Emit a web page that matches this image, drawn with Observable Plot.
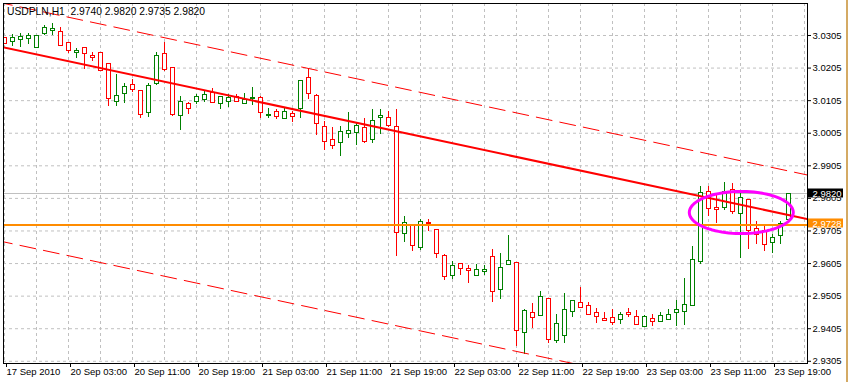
<!DOCTYPE html>
<html><head><meta charset="utf-8">
<script src="https://cdn.jsdelivr.net/npm/d3@7"></script>
<script src="https://cdn.jsdelivr.net/npm/@observablehq/plot@0.6"></script>
<style>
html,body{margin:0;padding:0;background:#fff;}
#wrap{position:relative;width:848px;height:382px;overflow:hidden;}
#edge{position:absolute;left:846px;top:0;width:2px;height:382px;background:#d4aa64;z-index:2;}
svg{display:block;}
</style></head><body><div id="wrap"><div id="edge"></div></div>
<script>
// ---- data (USDPLN, H1) ----
const symbolTitle = "USDPLN,H1\u00a0\u00a02.9740 2.9820 2.9735 2.9820";
const opens = [3.0296,3.0284,3.0290,3.0293,3.0266,3.0309,3.0318,3.0315,3.0281,3.0250,
3.0266,3.0243,3.0250,3.0217,3.0102,3.0125,3.0152,3.0135,3.0066,3.0155,
3.0247,3.0204,3.0057,3.0096,3.0101,3.0107,3.0130,3.0094,3.0100,3.0117,
3.0094,3.0112,3.0112,3.0060,3.0069,3.0050,3.0064,3.0080,3.0174,3.0119,
3.0025,2.9985,2.9974,3.0002,3.0005,3.0020,2.9984,3.0053,3.0051,3.0023,
2.9695,2.9721,2.9652,2.9729,2.9708,2.9629,2.9568,2.9603,2.9589,2.9568,
2.9579,2.9625,2.9524,2.9600,2.9606,2.9392,2.9453,2.9443,2.9497,2.9366,
2.9383,2.9456,2.9484,2.9475,2.9454,2.9435,2.9439,2.9432,2.9453,2.9441,
2.9411,2.9435,2.9425,2.9432,2.9453,2.9456,2.9474,2.9610,2.9826,2.9777,
2.9775,2.9831,2.9758,2.9801,2.9711,2.9706,2.9668,2.9690,2.9740];
const highs = [3.0299,3.0309,3.0311,3.0310,3.0304,3.0337,3.0343,3.0331,3.0283,3.0266,
3.0268,3.0253,3.0251,3.0218,3.0186,3.0158,3.0171,3.0137,3.0158,3.0252,
3.0283,3.0206,3.0119,3.0098,3.0123,3.0132,3.0143,3.0119,3.0125,3.0124,
3.0128,3.0146,3.0117,3.0080,3.0079,3.0082,3.0071,3.0168,3.0204,3.0125,
3.0040,3.0022,3.0025,3.0069,3.0036,3.0049,3.0079,3.0079,3.0071,3.0079,
2.9748,2.9723,2.9739,2.9739,2.9710,2.9634,2.9611,2.9605,2.9598,2.9603,
2.9600,2.9647,2.9637,2.9690,2.9608,2.9463,2.9482,2.9518,2.9499,2.9448,
2.9514,2.9493,2.9532,2.9484,2.9466,2.9456,2.9463,2.9455,2.9466,2.9460,
2.9445,2.9448,2.9456,2.9463,2.9491,2.9558,2.9658,2.9842,2.9843,2.9821,
2.9855,2.9852,2.9828,2.9803,2.9734,2.9719,2.9693,2.9734,2.9820];
const lows = [3.0276,3.0271,3.0269,3.0278,3.0266,3.0304,3.0304,3.0271,3.0250,3.0235,
3.0202,3.0225,3.0193,3.0087,3.0087,3.0095,3.0129,3.0051,3.0054,3.0152,
3.0194,3.0056,3.0014,3.0061,3.0093,3.0098,3.0097,3.0077,3.0085,3.0098,
3.0092,3.0090,3.0049,3.0049,3.0047,3.0046,3.0039,3.0049,3.0110,2.9997,
2.9952,2.9954,2.9935,2.9988,2.9967,2.9975,2.9974,3.0002,3.0024,2.9627,
2.9670,2.9642,2.9645,2.9703,2.9620,2.9553,2.9555,2.9568,2.9545,2.9565,
2.9568,2.9484,2.9496,2.9599,2.9351,2.9327,2.9405,2.9441,2.9359,2.9359,
2.9359,2.9438,2.9466,2.9444,2.9422,2.9427,2.9415,2.9419,2.9438,2.9415,
2.9410,2.9412,2.9423,2.9430,2.9412,2.9415,2.9472,2.9601,2.9749,2.9729,
2.9768,2.9755,2.9619,2.9649,2.9662,2.9642,2.9637,2.9662,2.9735];
const closes = [3.0278,3.0296,3.0300,3.0303,3.0303,3.0327,3.0325,3.0274,3.0257,3.0257,
3.0247,3.0237,3.0196,3.0109,3.0119,3.0146,3.0139,3.0061,3.0149,3.0241,
3.0198,3.0061,3.0101,3.0079,3.0115,3.0123,3.0099,3.0115,3.0112,3.0101,
3.0107,3.0115,3.0066,3.0063,3.0056,3.0069,3.0054,3.0166,3.0125,3.0033,
2.9977,2.9965,3.0008,3.0011,3.0027,2.9977,3.0044,3.0058,3.0028,2.9700,
2.9728,2.9658,2.9734,2.9725,2.9634,2.9565,2.9596,2.9588,2.9581,2.9585,
2.9586,2.9517,2.9591,2.9613,2.9397,2.9459,2.9438,2.9502,2.9371,2.9419,
2.9463,2.9491,2.9468,2.9446,2.9441,2.9428,2.9422,2.9447,2.9446,2.9416,
2.9441,2.9427,2.9444,2.9447,2.9462,2.9478,2.9616,2.9821,2.9772,2.9770,
2.9826,2.9762,2.9806,2.9705,2.9693,2.9662,2.9683,2.9726,2.9820];

const xTickBars = [0,8,16,24,32,40,48,56,64,72,80,88,96];
const xTickLabels = ["17 Sep 2010","20 Sep 03:00","20 Sep 11:00","20 Sep 19:00","21 Sep 03:00",
"21 Sep 11:00","21 Sep 19:00","22 Sep 03:00","22 Sep 11:00","22 Sep 19:00","23 Sep 03:00",
"23 Sep 11:00","23 Sep 19:00"];
const xGridBars = [0,4,8,12,16,20,24,28,32,36,40,44,48,52,56,60,64,68,72,76,80,84,88,92,96,100];
const yTicks = [2.9305,2.9405,2.9505,2.9605,2.9705,2.9805,2.9905,3.0005,3.0105,3.0205,3.0305];

// chart objects: trend channel (bar index, price), levels, ellipse
const channelBars = [-1, 101];
const midLine = [3.02732, 2.97382];
const upperLine = [3.04082, 2.98734];
const lowerLine = [2.96762, 2.91412];
const bidPrice = 2.9820;
const levelPrice = 2.9728;
const ellipseCenter = {k: 92.1, price: 2.97617};
const ellipseRadius = {k: 6.5, price: 0.00645};

// ---- build ----
const GREEN = "#008000", RED = "#ff0000";
const bars = opens.map((o, i) => ({k: i, open: o, high: highs[i], low: lows[i], close: closes[i]}));
const col = d => d.close >= d.open ? GREEN : RED;
const tickLabelOf = new Map(xTickBars.map((b, i) => [b, xTickLabels[i]]));

const chanRows = [];
[["mid", midLine], ["up", upperLine], ["low", lowerLine]].forEach(([z, arr]) =>
  channelBars.forEach((k, i) => chanRows.push({z, k, price: arr[i]})));
const ellipseRows = d3.range(0, 360, 4).map(a => ({
  k: ellipseCenter.k + ellipseRadius.k * Math.cos(a * Math.PI / 180),
  price: ellipseCenter.price + ellipseRadius.price * Math.sin(a * Math.PI / 180)
}));
const markers = [{price: bidPrice, bg: "#000000"}, {price: levelPrice, bg: "#ff8c00"}];

const xDom = [-0.125, 100.375];
const yDom = [2.92982, 3.04032];
const pxPrice = (yDom[1] - yDom[0]) / 360;

const chart = Plot.plot({
  width: 848, height: 382,
  marginTop: 3, marginRight: 41, marginBottom: 19, marginLeft: 3,
  x: {type: "linear", domain: xDom},
  y: {type: "linear", domain: yDom},
  color: {type: "identity"},
  style: {fontFamily: "'Liberation Sans', Arial, sans-serif", fontSize: "9.5px", background: "#fff", overflow: "visible"},
  marks: [
    Plot.gridY(yTicks, {stroke: "#c0c0c0", strokeOpacity: 1, strokeDasharray: "3,3"}),
    Plot.gridX(xGridBars, {stroke: "#c0c0c0", strokeOpacity: 1, strokeDasharray: "3,3"}),
    Plot.ruleY([bidPrice], {stroke: "#c0c0c0", strokeWidth: 1}),
    Plot.ruleX(bars, {x: "k", y1: "low", y2: "high", stroke: col, strokeWidth: 1, shapeRendering: "crispEdges", clip: true}),
    Plot.rect(bars, {
      x1: d => d.k - 0.25, x2: d => d.k + 0.25,
      y1: "open",
      y2: d => Math.abs(d.close - d.open) < pxPrice ? d.open - pxPrice : d.close,
      fill: "#ffffff", stroke: col, strokeWidth: 1, shapeRendering: "crispEdges", clip: true
    }),
    Plot.line(chanRows.filter(d => d.z !== "mid"), {x: "k", y: "price", z: "z", stroke: RED, strokeWidth: 1, strokeDasharray: "16,8", clip: true}),
    Plot.line(chanRows.filter(d => d.z === "mid"), {x: "k", y: "price", stroke: RED, strokeWidth: 2, clip: true}),
    Plot.ruleY([levelPrice], {stroke: "#ff8c00", strokeWidth: 2, dy: 1.5}),
    Plot.line(ellipseRows, {x: "k", y: "price", curve: "linear-closed", stroke: "#ff00ff", strokeWidth: 3}),
    Plot.frame({stroke: "#000"}),
    Plot.axisY({anchor: "right", ticks: yTicks, tickFormat: d3.format(".4f"), tickSize: 3, tickPadding: 2, label: null, fill: "#000"}),
    Plot.axisX({anchor: "bottom", ticks: xTickBars, tickFormat: d => tickLabelOf.get(d), tickSize: 4, tickPadding: 1, textAnchor: "start", dx: 2, label: null, fill: "#000"}),
    Plot.rect(markers, {x1: xDom[1] + 1 / 8, x2: xDom[1] + 36 / 8, y1: d => d.price + 4.5 * pxPrice, y2: d => d.price - 4.5 * pxPrice, fill: "bg"}),
    Plot.text(markers, {x: xDom[1], y: "price", text: d => d3.format(".4f")(d.price), textAnchor: "start", dx: 5, fill: "#ffffff"}),
    Plot.text([symbolTitle], {frameAnchor: "top-left", text: d => d, textAnchor: "start", lineAnchor: "top", dx: 3.5, dy: 4, fill: "#000", fontSize: 10.3})
  ]
});
document.getElementById("wrap").prepend(chart);
</script>
</body></html>
